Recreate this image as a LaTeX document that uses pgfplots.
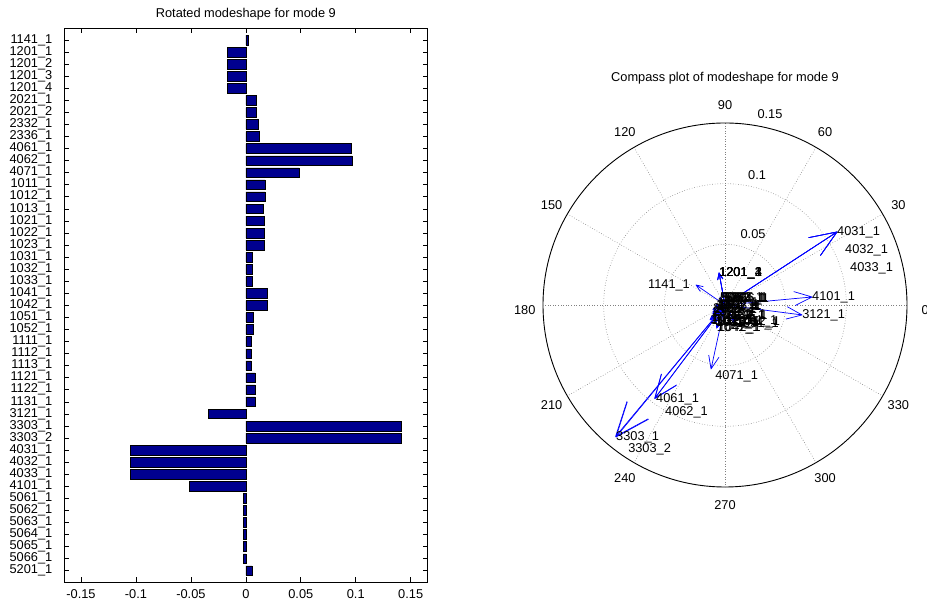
\documentclass[border=0pt]{standalone}
\usepackage{fontspec}
\setmainfont{Liberation Sans}
\usepackage{pgfplots}
\pgfplotsset{compat=1.18}
\usepackage{pgfplotstable}

\definecolor{barnavy}{rgb}{0,0,0.56}
\definecolor{gridgray}{rgb}{0.5,0.5,0.5}

% rotated (real) modeshape components, one row per DOF, top to bottom
\pgfplotstableread{
pos val
1 0.0024
2 -0.0168
3 -0.0168
4 -0.0168
5 -0.0168
6 0.0091
7 0.0091
8 0.0109
9 0.0118
10 0.0956
11 0.0965
12 0.0485
13 0.0173
14 0.0173
15 0.0155
16 0.0164
17 0.0164
18 0.0164
19 0.0055
20 0.0055
21 0.0055
22 0.0191
23 0.0191
24 0.0064
25 0.0064
26 0.0046
27 0.0046
28 0.0046
29 0.0082
30 0.0082
31 0.0082
32 -0.0340
33 0.1412
34 0.1412
35 -0.1054
36 -0.1054
37 -0.1054
38 -0.0516
39 -0.0022
40 -0.0022
41 -0.0022
42 -0.0022
43 -0.0022
44 -0.0022
45 0.0055
}\modeshape

% compass arrow from the origin to (u,v), with a barbed head scaled to its length
\newcommand{\compassarrow}[2]{%
  \pgfmathsetmacro{\hax}{0.8*(#1)-0.08*(#2)}%
  \pgfmathsetmacro{\hay}{0.8*(#2)+0.08*(#1)}%
  \pgfmathsetmacro{\hbx}{0.8*(#1)+0.08*(#2)}%
  \pgfmathsetmacro{\hby}{0.8*(#2)-0.08*(#1)}%
  \edef\arrowplot{\noexpand\addplot[blue, line width=0.7pt, line join=round]
    coordinates {(0,0) (#1,#2) (\hax,\hay) (#1,#2) (\hbx,\hby)};}%
  \arrowplot}
\newcommand{\compasslabel}[4][west]{%
  \node[anchor=#1, inner sep=0pt] at (axis cs:#2,#3) {#4};}

\newcommand{\chartfont}{\fontsize{12.8}{15}\selectfont}

\begin{document}
\chartfont
\begin{tikzpicture}[font=\chartfont]
\path[use as bounding box] (0,0) rectangle (927pt,605pt);

% ---------------- bar chart ----------------
\begin{axis}[
  at={(64pt,23pt)}, anchor=south west,
  scale only axis, width=363.7pt, height=553.7pt,
  xmin=-0.1655, xmax=0.1655,
  ymin=0.03, ymax=45.94, y dir=reverse,
  clip=false,
  axis line style={line width=0.8pt},
  tick align=inside, major tick length=5pt,
  tick style={line width=0.6pt, black},
  xtick={-0.15,-0.1,-0.05,0,0.05,0.1,0.15},
  /pgf/number format/fixed, /pgf/number format/precision=2,
  /pgf/number format/assume math mode=true,
  ytick={1,...,45},
  yticklabels={1141\_1,1201\_1,1201\_2,1201\_3,1201\_4,2021\_1,2021\_2,2332\_1,2336\_1,
    4061\_1,4062\_1,4071\_1,1011\_1,1012\_1,1013\_1,1021\_1,1022\_1,1023\_1,
    1031\_1,1032\_1,1033\_1,1041\_1,1042\_1,1051\_1,1052\_1,1111\_1,1112\_1,1113\_1,
    1121\_1,1122\_1,1131\_1,3121\_1,3303\_1,3303\_2,4031\_1,4032\_1,4033\_1,4101\_1,
    5061\_1,5062\_1,5063\_1,5064\_1,5065\_1,5066\_1,5201\_1},
  tick label style={font=\chartfont},
  yticklabel style={xshift=-11.5pt, inner sep=0pt},
  xticklabel style={yshift=-3pt},
]
\addplot[xbar, bar width=0.8, fill=barnavy, draw=black, line width=0.5pt]
  table[x=val, y=pos] {\modeshape};
\node[font=\chartfont] at (rel axis cs:0.5,1) [yshift=14.5pt] {Rotated modeshape for mode 9};
\end{axis}

% ---------------- compass plot ----------------
\begin{axis}[
  at={(506.6pt,81.6pt)}, anchor=south west,
  scale only axis, width=436.8pt, height=436.8pt,
  xmin=-0.18, xmax=0.18, ymin=-0.18, ymax=0.18,
  hide axis, clip=false,
]
% polar grid
\draw[gridgray, dotted, line width=0.6pt] (axis cs:0,0) circle[radius=0.05];
\draw[gridgray, dotted, line width=0.6pt] (axis cs:0,0) circle[radius=0.1];
\pgfplotsinvokeforeach{0,30,60,90,120,150}{
  \draw[gridgray, dotted, line width=0.6pt]
    (axis cs:{0.15*cos(#1)},{0.15*sin(#1)}) -- (axis cs:{-0.15*cos(#1)},{-0.15*sin(#1)});
}
\draw[black, line width=0.9pt] (axis cs:0,0) circle[radius=0.15];
\pgfplotsinvokeforeach{30,60,90,120,150,210,240,270,300,330}{
  \node at (axis cs:{0.165*cos(#1)},{0.165*sin(#1)}) {#1};
}
\node at (axis cs:0.165,-0.004) {0};
\node at (axis cs:-0.165,-0.004) {180};
\node at (axis cs:0.0231,0.0585) {0.05};
\node at (axis cs:0.0264,0.1071) {0.1};
\node at (axis cs:0.0371,0.1574) {0.15};
\node at (axis cs:0,0.187) {Compass plot of modeshape for mode 9};

% complex modeshape components (u = real, v = imaginary)
\compassarrow{-0.0239}{0.0165}   % 1141_1
\compassarrow{-0.0049}{0.0264}   % 1201_1
\compassarrow{-0.0049}{0.0264}   % 1201_2
\compassarrow{-0.0049}{0.0264}   % 1201_3
\compassarrow{-0.0049}{0.0264}   % 1201_4
\compassarrow{-0.0099}{-0.0036}  % 2021_1
\compassarrow{-0.0099}{-0.0036}  % 2021_2
\compassarrow{-0.0102}{-0.0059}  % 2332_1
\compassarrow{-0.0102}{-0.0072}  % 2336_1
\compassarrow{-0.0577}{-0.0767}  % 4061_1
\compassarrow{-0.0580}{-0.0772}  % 4062_1
\compassarrow{-0.0115}{-0.0527}  % 4071_1
\compassarrow{-0.0123}{-0.0123}  % 1011_1
\compassarrow{-0.0123}{-0.0123}  % 1012_1
\compassarrow{-0.0110}{-0.0110}  % 1013_1
\compassarrow{-0.0083}{-0.0144}  % 1021_1
\compassarrow{-0.0083}{-0.0144}  % 1022_1
\compassarrow{-0.0083}{-0.0144}  % 1023_1
\compassarrow{-0.0072}{-0.0013}  % 1031_1
\compassarrow{-0.0072}{-0.0013}  % 1032_1
\compassarrow{-0.0072}{-0.0013}  % 1033_1
\compassarrow{-0.0069}{-0.0190}  % 1041_1
\compassarrow{-0.0069}{-0.0190}  % 1042_1
\compassarrow{0.0090}{-0.0156}   % 1051_1
\compassarrow{0.0090}{-0.0156}   % 1052_1
\compassarrow{-0.0073}{0.0000}   % 1111_1
\compassarrow{-0.0073}{0.0000}   % 1112_1
\compassarrow{-0.0073}{0.0000}   % 1113_1
\compassarrow{-0.0016}{-0.0092}  % 1121_1
\compassarrow{-0.0016}{-0.0092}  % 1122_1
\compassarrow{-0.0016}{-0.0092}  % 1131_1
\compassarrow{0.0635}{-0.0082}   % 3121_1
\compassarrow{-0.0898}{-0.1088}  % 3303_1
\compassarrow{-0.0902}{-0.1084}  % 3303_2
\compassarrow{0.0923}{0.0602}    % 4031_1
\compassarrow{0.0923}{0.0602}    % 4032_1
\compassarrow{0.0923}{0.0602}    % 4033_1
\compassarrow{0.0717}{0.0066}    % 4101_1
\compassarrow{-0.0041}{0.0059}   % 5061_1
\compassarrow{-0.0041}{0.0059}   % 5062_1
\compassarrow{-0.0041}{0.0059}   % 5063_1
\compassarrow{-0.0041}{0.0059}   % 5064_1
\compassarrow{-0.0041}{0.0059}   % 5065_1
\compassarrow{-0.0041}{0.0059}   % 5066_1
\compassarrow{0.0077}{-0.0133}   % 5201_1

% DOF labels beside the arrow tips
\compasslabel[east]{-0.0288}{0.0165}{1141\_1}
\compasslabel{-0.0049}{0.0264}{1201\_1}
\compasslabel{-0.0049}{0.0264}{1201\_2}
\compasslabel{-0.0049}{0.0264}{1201\_3}
\compasslabel{-0.0049}{0.0264}{1201\_4}
\compasslabel{-0.0099}{-0.0036}{2021\_1}
\compasslabel{-0.0090}{-0.0046}{2021\_2}
\compasslabel{-0.0102}{-0.0059}{2332\_1}
\compasslabel{-0.0102}{-0.0072}{2336\_1}
\compasslabel{-0.0569}{-0.0775}{4061\_1}
\compasslabel{-0.0495}{-0.0882}{4062\_1}
\compasslabel{-0.0082}{-0.0585}{4071\_1}
\compasslabel{-0.0123}{-0.0123}{1011\_1}
\compasslabel{-0.0113}{-0.0133}{1012\_1}
\compasslabel{-0.0110}{-0.0110}{1013\_1}
\compasslabel{-0.0083}{-0.0144}{1021\_1}
\compasslabel{-0.0073}{-0.0154}{1022\_1}
\compasslabel{-0.0063}{-0.0144}{1023\_1}
\compasslabel{-0.0072}{-0.0013}{1031\_1}
\compasslabel{-0.0062}{-0.0023}{1032\_1}
\compasslabel{-0.0052}{-0.0013}{1033\_1}
\compasslabel{-0.0069}{-0.0190}{1041\_1}
\compasslabel{-0.0059}{-0.0190}{1042\_1}
\compasslabel{0.0090}{-0.0156}{1051\_1}
\compasslabel{0.0100}{-0.0146}{1052\_1}
\compasslabel{-0.0073}{0.0000}{1111\_1}
\compasslabel{-0.0063}{0.0010}{1112\_1}
\compasslabel{-0.0053}{0.0000}{1113\_1}
\compasslabel{-0.0016}{-0.0092}{1121\_1}
\compasslabel{-0.0006}{-0.0082}{1122\_1}
\compasslabel{0.0004}{-0.0092}{1131\_1}
\compasslabel{0.0635}{-0.0082}{3121\_1}
\compasslabel{-0.0898}{-0.1088}{3303\_1}
\compasslabel{-0.0799}{-0.1187}{3303\_2}
\compasslabel{0.0923}{0.0602}{4031\_1}
\compasslabel{0.0989}{0.0453}{4032\_1}
\compasslabel{0.1030}{0.0305}{4033\_1}
\compasslabel{0.0717}{0.0066}{4101\_1}
\compasslabel{-0.0041}{0.0059}{5061\_1}
\compasslabel{-0.0031}{0.0049}{5062\_1}
\compasslabel{-0.0021}{0.0059}{5063\_1}
\compasslabel{-0.0011}{0.0049}{5064\_1}
\compasslabel{-0.0001}{0.0059}{5065\_1}
\compasslabel{0.0009}{0.0049}{5066\_1}
\compasslabel{0.0077}{-0.0133}{5201\_1}
\end{axis}
\end{tikzpicture}
\end{document}
